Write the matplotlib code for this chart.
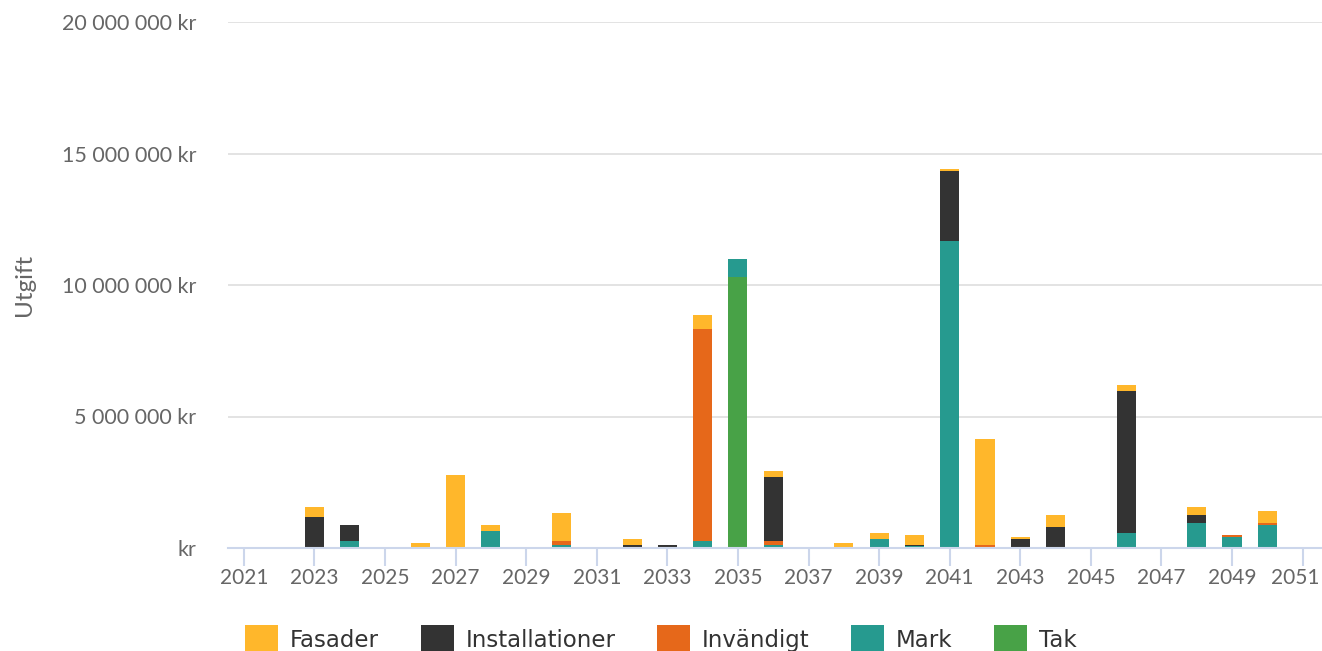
import numpy as np
import matplotlib.pyplot as plt
from matplotlib.ticker import FuncFormatter
from matplotlib.transforms import ScaledTranslation

plt.rcParams["font.family"] = ["Lato", "DejaVu Sans"]

years = np.arange(2021, 2052)

# values in millions of kr
fasader = {2023: 0.38, 2026: 0.14, 2027: 2.78, 2028: 0.23, 2030: 1.06, 2031: 0.04,
           2032: 0.23, 2034: 0.53, 2036: 0.23, 2038: 0.19, 2039: 0.23, 2040: 0.38,
           2041: 0.07, 2042: 4.03, 2043: 0.08, 2044: 0.45, 2046: 0.23, 2048: 0.31,
           2050: 0.46}
installationer = {2023: 1.13, 2024: 0.60, 2032: 0.07, 2033: 0.11, 2036: 2.43,
                  2040: 0.05, 2041: 2.67, 2043: 0.34, 2044: 0.80, 2046: 5.40,
                  2048: 0.30}
invandigt = {2023: 0.05, 2030: 0.16, 2034: 8.06, 2036: 0.16, 2042: 0.06,
             2049: 0.07, 2050: 0.08}
mark = {2024: 0.27, 2026: 0.05, 2028: 0.65, 2030: 0.11, 2032: 0.04, 2034: 0.27,
        2035: 0.70, 2036: 0.11, 2039: 0.34, 2040: 0.06, 2041: 11.67, 2042: 0.05,
        2046: 0.57, 2048: 0.95, 2049: 0.42, 2050: 0.87, 2051: 0.04}
tak = {2035: 10.30}

# stacked bottom to top
series = [
    ("Tak", tak, "#48a247"),
    ("Mark", mark, "#269a8f"),
    ("Invändigt", invandigt, "#e6681a"),
    ("Installationer", installationer, "#333333"),
    ("Fasader", fasader, "#ffb72b"),
]

fig = plt.figure(figsize=(13.22, 6.51), dpi=100)
ax = fig.add_axes([228 / 1322, 103 / 651, 1 - 228 / 1322, 526 / 651])

bottom = np.zeros(len(years))
handles = {}
for name, d, color in series:
    vals = np.array([d.get(y, 0.0) for y in years]) * 1e6
    handles[name] = ax.bar(years, vals, 0.54, bottom=bottom, color=color, label=name)
    bottom += vals

ax.set_xlim(2020.55, 2051.55)
ax.set_ylim(0, 20e6)
ax.set_yticks(np.arange(0, 20e6 + 1, 5e6))
ax.yaxis.set_major_formatter(FuncFormatter(
    lambda v, p: "kr" if v == 0 else f"{int(v):,}".replace(",", " ") + " kr"))
ax.set_xticks(np.arange(2021, 2052, 2))

ax.grid(axis="y", color="#e0e0e0", linewidth=1.3)
ax.set_axisbelow(True)
for s in ["top", "right", "left"]:
    ax.spines[s].set_visible(False)
ax.spines["bottom"].set_color("#ccd6eb")
ax.spines["bottom"].set_linewidth(1.5)
ax.tick_params(axis="y", length=0, pad=23, labelsize=15.5, labelcolor="#666666")
ax.tick_params(axis="x", length=13, width=1.5, color="#ccd6eb", pad=1.5,
               labelsize=15, labelcolor="#666666")
ax.set_ylabel("Utgift", fontsize=17.5, color="#666666")
ax.yaxis.set_label_coords(-0.176, 0.5)

# keep the last year label inside the figure, like the original
last = ax.get_xticklabels()[-1]
last.set_transform(last.get_transform() + ScaledTranslation(-0.07, 0, fig.dpi_scale_trans))

order = ["Fasader", "Installationer", "Invändigt", "Mark", "Tak"]
fig.legend([handles[n] for n in order], order, loc="center",
           bbox_to_anchor=(0.5, 12 / 651), ncol=5, frameon=False,
           prop={"family": "DejaVu Sans", "size": 16.5},
           labelcolor="#333333", handlelength=1.44, handleheight=1.44,
           handletextpad=0.5, columnspacing=1.83)

fig.savefig("out.png", dpi=100)
